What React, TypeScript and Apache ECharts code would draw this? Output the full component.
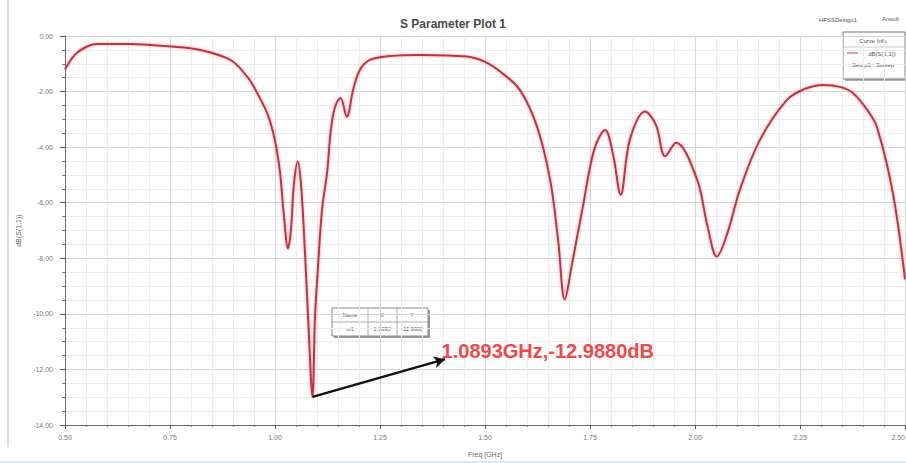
import React, { useEffect, useRef } from "react";
import * as echarts from "echarts";

const freqGHz = [
  0.5, 0.524, 0.555, 0.579, 0.655, 0.745, 0.81, 0.85, 0.898, 0.936, 0.96, 0.983, 1.0, 1.012, 1.021,
  1.031, 1.038, 1.045, 1.054, 1.062, 1.071, 1.079, 1.0893, 1.095, 1.102, 1.112, 1.124, 1.133, 1.143,
  1.156, 1.171, 1.186, 1.202, 1.226, 1.274, 1.345, 1.457, 1.5, 1.536, 1.583, 1.624, 1.655, 1.674,
  1.69, 1.707, 1.733, 1.76, 1.786, 1.805, 1.823, 1.845, 1.881, 1.907, 1.929, 1.955, 2.005, 2.029,
  2.052, 2.076, 2.107, 2.155, 2.219, 2.262, 2.305, 2.345, 2.376, 2.41, 2.433, 2.471, 2.5,
];
const s11dB = [
  -1.21, -0.67, -0.36, -0.29, -0.29, -0.37, -0.47, -0.61, -0.9, -1.51, -2.12, -2.84, -3.77, -4.92,
  -6.43, -7.65, -6.97, -5.35, -4.52, -5.35, -7.68, -10.2, -12.988, -10.2, -8.4, -6.25, -4.92, -3.38,
  -2.55, -2.23, -2.91, -1.94, -1.22, -0.86, -0.72, -0.68, -0.74, -0.93, -1.28, -1.94, -3.27, -5.17,
  -7.33, -9.48, -8.22, -6.14, -4.09, -3.38, -4.27, -5.71, -3.73, -2.72, -3.2, -4.33, -3.84, -5.17,
  -6.79, -7.94, -7.15, -5.53, -3.73, -2.3, -1.9, -1.76, -1.83, -2.05, -2.66, -3.27, -5.64, -8.76,
];
const xTicks = { min: 0.5, max: 2.5, step: 0.25 };
const yTicks = { min: -14, max: 0, step: 2 };
const marker = { name: "m1", x: 1.0893, y: -12.988 };
const markerLabelAnchor = [1.405, -11.63];
const titleText = "S Parameter Plot 1";
const xName = "Freq [GHz]";
const yName = "dB(S(1,1))";

export default function App() {
  const ref = useRef<HTMLDivElement>(null);
  useEffect(() => {
    if (!ref.current) return;
    const chart = echarts.init(ref.current, null, { renderer: "svg" });
    const data = freqGHz.map((f, i) => [f, s11dB[i]]);
    const axisFont = { fontFamily: "Arial, Liberation Sans", fontSize: 7, color: "#777" };
    const small = (text: string, x: number, y: number, size = 6, align = "center") => ({
      type: "text",
      x,
      y,
      style: { text, fontFamily: "Arial", fontSize: size, fill: "#555", align, verticalAlign: "middle" },
    });
    chart.setOption({
      animation: false,
      backgroundColor: "#ffffff",
      title: {
        text: titleText,
        left: "center",
        top: 13,
        textStyle: { fontFamily: "Arial, Liberation Sans", fontSize: 12, fontWeight: "bold", color: "#4a4a4a" },
      },
      grid: { left: 65, right: 1, top: 36, bottom: 38, containLabel: false, outerBoundsMode: "none" },
      xAxis: {
        type: "value",
        min: xTicks.min,
        max: xTicks.max,
        interval: xTicks.step,
        name: xName,
        nameLocation: "middle",
        nameGap: 26,
        nameTextStyle: { ...axisFont, fontSize: 7, color: "#666" },
        axisLine: { show: true, onZero: false, lineStyle: { color: "#666", width: 1 } },
        axisTick: { show: true, inside: false, length: 4, lineStyle: { color: "#555" } },
        minorTick: { show: true, splitNumber: 5, length: 2, lineStyle: { color: "#777" } },
        axisLabel: {
          ...axisFont,
          margin: 9,
          hideOverlap: false,
          alignMaxLabel: "right",
          formatter: (v: number) => v.toFixed(2),
        },
        splitLine: { show: true, lineStyle: { color: "#d4d4d4", width: 1 } },
        minorSplitLine: { show: true, lineStyle: { color: "#ececec", width: 1 } },
      },
      yAxis: {
        type: "value",
        min: yTicks.min,
        max: yTicks.max,
        interval: yTicks.step,
        name: yName,
        nameLocation: "middle",
        nameGap: 38,
        nameRotate: 90,
        nameTextStyle: { ...axisFont, fontSize: 7, color: "#666" },
        axisLine: { show: true, onZero: false, lineStyle: { color: "#666", width: 1 } },
        axisTick: { show: true, inside: false, length: 5, lineStyle: { color: "#555" } },
        minorTick: { show: true, splitNumber: 4, length: 3, lineStyle: { color: "#777" } },
        axisLabel: { ...axisFont, margin: 12, formatter: (v: number) => v.toFixed(2) },
        splitLine: { show: true, lineStyle: { color: "#d4d4d4", width: 1 } },
        minorSplitLine: { show: true, lineStyle: { color: "#ececec", width: 1 } },
      },
      series: [
        {
          type: "line",
          name: yName,
          data,
          smooth: 0.35,
          showSymbol: false,
          clip: false,
          lineStyle: { color: "#bd3540", width: 2, shadowColor: "rgba(240,120,130,0.7)", shadowBlur: 3 },
          markLine: {
            silent: true,
            symbol: ["none", "arrow"],
            symbolSize: [9, 11],
            label: { show: false },
            lineStyle: { color: "#111", width: 2.5, type: "solid" },
            data: [[{ coord: [marker.x, marker.y] }, { coord: markerLabelAnchor }]],
          },
          markPoint: {
            silent: true,
            symbol: "circle",
            symbolSize: 1,
            itemStyle: { color: "rgba(0,0,0,0)" },
            data: [
              {
                coord: markerLabelAnchor,
                label: {
                  show: true,
                  position: "right",
                  distance: -4,
                  offset: [0, -8],
                  formatter: `${marker.x.toFixed(4)}GHz,${marker.y.toFixed(4)}dB`,
                  fontFamily: "Arial, Liberation Sans",
                  fontWeight: "bold",
                  fontSize: 20,
                  color: "#ee4a4c",
                },
              },
            ],
          },
        },
      ],
      graphic: [
        { type: "line", shape: { x1: 8, y1: 0, x2: 8, y2: 447 }, style: { stroke: "#bdbdbd", lineWidth: 1 } },
        { type: "line", shape: { x1: 0, y1: 462, x2: 906, y2: 462 }, style: { stroke: "#d8ecf6", lineWidth: 2 } },
        small("HFSSDesign1", 838, 20),
        small("Ansoft", 882, 19, 6, "left"),
        {
          type: "group",
          children: [
            { type: "rect", shape: { x: 845, y: 34, width: 62, height: 47 }, style: { fill: "#b0b0b0" } },
            { type: "rect", shape: { x: 843, y: 32, width: 62, height: 47 }, style: { fill: "#fff", stroke: "#777", lineWidth: 1 } },
            { type: "line", shape: { x1: 843, y1: 47, x2: 905, y2: 47 }, style: { stroke: "#ccc", lineWidth: 1 } },
            small("Curve Info", 873, 41),
            { type: "line", shape: { x1: 847, y1: 53, x2: 858, y2: 53 }, style: { stroke: "#bd3540", lineWidth: 1 } },
            small("dB(S(1,1))", 882, 54),
            small("Setup1 : Sweep", 873, 65),
          ],
        },
        {
          type: "group",
          children: [
            { type: "rect", shape: { x: 334, y: 310, width: 96, height: 28 }, style: { fill: "#9a9a9a" } },
            { type: "rect", shape: { x: 332, y: 308, width: 96, height: 28 }, style: { fill: "#fff", stroke: "#888", lineWidth: 1 } },
            { type: "line", shape: { x1: 332, y1: 322, x2: 428, y2: 322 }, style: { stroke: "#aaa", lineWidth: 1 } },
            { type: "line", shape: { x1: 368, y1: 308, x2: 368, y2: 336 }, style: { stroke: "#aaa", lineWidth: 1 } },
            { type: "line", shape: { x1: 397, y1: 308, x2: 397, y2: 336 }, style: { stroke: "#aaa", lineWidth: 1 } },
            small("Name", 350, 315, 5.5),
            small("X", 382, 315, 5.5),
            small("Y", 412, 315, 5.5),
            small(marker.name, 350, 329, 5.5),
            small(marker.x.toFixed(4), 382, 329, 5.5),
            small(marker.y.toFixed(4), 412, 329, 5.5),
          ],
        },
      ],
    });
    return () => chart.dispose();
  }, []);
  return (
    <div
      ref={ref}
      style={{ position: "fixed", left: 0, top: 0, width: 906, height: 463, background: "#fff" }}
    />
  );
}
